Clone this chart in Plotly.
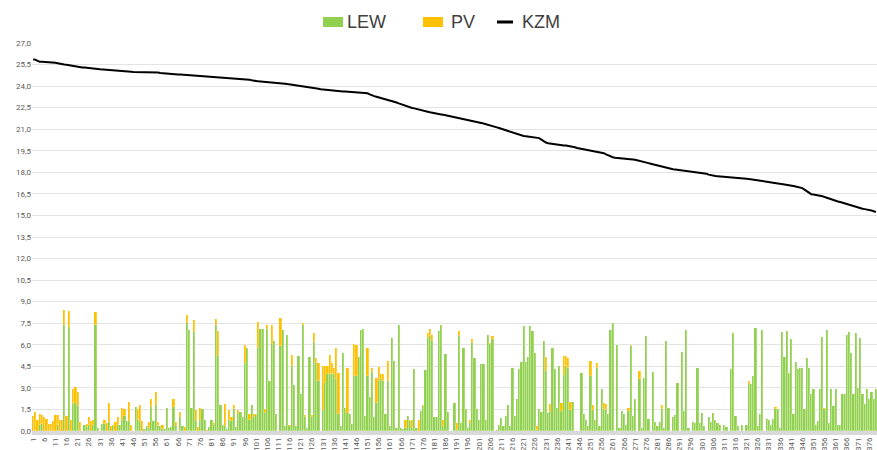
import plotly.graph_objects as go

# ---------------- data ----------------
LEW = [
    0, 0, 0, 0.45, 0.5, 0, 0, 0, 0, 0,
    0, 0.4, 0, 0, 7.4, 0, 7.25, 0, 1.9, 1.95,
    1.75, 0, 0, 0.4, 0.3, 0.4, 0, 0.4, 7.4, 0.2,
    0, 0.5, 0.5, 0, 0.65, 0, 0.35, 0, 0.4, 0.4,
    0.8, 1.05, 0.7, 0.7, 0, 0, 1.65, 0.8, 0.65, 0,
    0.15, 0.35, 0.2, 1.7, 0.7, 1.8, 0.35, 0.35, 0.15, 0.15,
    1.6, 0.2, 0.3, 1.65, 0.35, 0, 0.95, 0.35, 0, 7.5,
    7.05, 1.6, 6.9, 0.7, 0, 0.8, 1.55, 0.75, 0, 0.3,
    0.8, 0.45, 7.4, 5.2, 1.8, 0.4, 0.35, 0.15, 0.8, 0.7,
    1.55, 0.25, 1.15, 1.3, 0.95, 4.75, 5.8, 0.8, 1.8, 0.95,
    1.1, 5.75, 7.1, 7.1, 1.25, 7.1, 3.5, 6.05, 6.25, 1.15,
    0, 5.9, 7.05, 0.35, 6.7, 0.35, 4.5, 3.2, 0.35, 5.25,
    2.6, 7.35, 1.0, 0.2, 5.15, 1.0, 6.2, 4.75, 3.5, 0,
    1.45, 3.35, 4.0, 4.0, 4.0, 4.0, 3.6, 1.2, 0.35, 5.45,
    1.6, 1.25, 1.2, 0.5, 3.85, 3.85, 5.15, 7.0, 7.1, 1.05,
    3.8, 2.4, 4.1, 0.95, 1.95, 3.5, 3.6, 3.5, 1.2, 3.5,
    0.35, 6.45, 4.9, 0.2, 7.35, 0.2, 0.15, 0.2, 1.05, 0.7,
    0.2, 4.3, 0.2, 0, 1.4, 1.75, 4.25, 6.5, 6.6, 6.25,
    1.0, 1.0, 6.95, 7.35, 0.35, 5.35, 1.3, 0, 0, 1.95,
    0.1, 6.6, 0.55, 5.75, 1.5, 0.2, 0.55, 6.15, 5.05, 1.5,
    0.75, 4.65, 4.65, 0.75, 6.65, 6.05, 6.4, 0, 0.05, 0.4,
    0.9, 0.35, 1.05, 1.8, 0.35, 4.4, 1.05, 2.25, 4.3, 4.8,
    7.3, 4.8, 5.15, 7.3, 6.95, 5.45, 0.1, 1.5, 1.35, 6.25,
    4.2, 1.25, 1.3, 5.75, 4.3, 1.6, 4.55, 1.4, 3.9, 4.5,
    4.4, 1.45, 2.05, 0, 0, 0, 4.05, 1.15, 0.75, 0.35,
    3.8, 1.45, 0.75, 4.4, 0.35, 2.95, 1.5, 1.45, 1.15, 7.0,
    7.5, 0, 6.0, 0.2, 1.4, 1.15, 0.45, 1.4, 5.9, 1.05,
    2.2, 0, 3.6, 0.2, 3.7, 6.6, 0.85, 0, 4.1, 0.65,
    0.35, 0.65, 1.55, 0.2, 6.25, 1.6, 0, 0.95, 1.1, 3.35,
    0, 5.5, 1.4, 7.05, 0.2, 0, 0.6, 0.55, 4.35, 0.55,
    1.25, 0.35, 0, 1.0, 0.65, 1.25, 0.8, 0.55, 0.4, 0,
    0.45, 0.3, 0, 4.3, 6.85, 1.05, 0.35, 0, 0.45, 0,
    0.4, 3.25, 3.3, 3.85, 7.15, 0.35, 1.15, 7.05, 0, 0.85,
    0.8, 0.4, 0.85, 1.55, 1.55, 0.2, 6.9, 5.15, 6.95, 4.05,
    6.4, 1.15, 4.8, 4.3, 4.35, 4.4, 1.55, 5.05, 4.4, 2.55,
    2.95, 0.4, 0.7, 2.95, 6.55, 1.55, 7.0, 0.55, 2.95, 1.75,
    2.95, 0.4, 0.4, 2.6, 2.6, 6.65, 6.9, 5.45, 2.6, 6.8,
    3.0, 6.5, 2.6, 1.85, 2.95, 2.2, 2.7, 2.2, 2.9,
]

PV = [
    1.05, 1.3, 0.8, 0.7, 0.6, 0.95, 0.85, 0.5, 0.5, 0.7,
    1.1, 0.7, 0.75, 0.8, 1.0, 1.05, 1.1, 0.75, 1.05, 1.1,
    0.95, 0.6, 0, 0, 0.2, 0.55, 0.7, 0.35, 0.9, 0,
    0, 0, 0.3, 0.55, 1.3, 0.35, 0.1, 0.65, 0.55, 0,
    0.8, 0.5, 0, 1.3, 0.45, 0, 0, 0.75, 1.15, 0.7,
    0, 0, 0.4, 0.5, 0, 0.9, 0.3, 0, 0.25, 0,
    0, 0, 0, 0.6, 0.3, 0, 0.4, 0, 0.3, 0.6,
    0, 0, 0.8, 0.75, 0.25, 0.8, 0, 0, 0.1, 0,
    0, 0.1, 0.4, 1.75, 0, 0, 1.5, 0, 0.65, 0.3,
    0.25, 0, 0.3, 0, 0, 1.25, 0, 0.35, 0, 0.2,
    0.05, 1.85, 0, 0, 0.25, 0.3, 0, 1.35, 0, 0,
    0, 1.95, 0, 0, 0, 0.1, 0.8, 0, 0, 0,
    0, 0.2, 0.1, 0, 0, 0.1, 0.6, 0.3, 1.25, 0,
    3.05, 1.15, 0.55, 1.3, 0.7, 0.35, 2.15, 2.85, 0, 0,
    0, 3.1, 0, 0, 2.2, 2.15, 0, 0, 0, 0,
    1.95, 0, 0.25, 0, 1.75, 0.95, 0.4, 0.45, 0, 1.4,
    0, 0.05, 0, 0, 0, 0, 0, 0.6, 0, 0.1,
    0.6, 0, 0, 0.75, 0, 0.05, 0, 0.35, 0.5, 0.4,
    0, 0, 0, 0, 0.4, 0, 0, 0, 0, 0,
    0.45, 0.35, 0, 0.05, 0, 0, 0.2, 0.25, 0, 0,
    0, 0, 0, 0, 0, 0.1, 0.2, 0, 0, 0,
    0, 0, 0, 0, 0, 0, 0, 0, 0, 0,
    0, 0, 0, 0, 0, 0, 0.25, 0, 0, 0,
    0.95, 0, 0.55, 0, 0, 0, 0, 0.55, 1.35, 0.7,
    0.7, 0.6, 0, 0, 0, 0, 0, 0, 0, 0,
    1.1, 0.35, 0, 0.3, 0, 0, 0.45, 0.45, 0, 0,
    0, 0, 0, 0, 0, 0, 0, 0.2, 0.1, 0,
    0, 0, 0.6, 0, 0, 0, 0, 0, 0, 0,
    0, 0, 0.25, 0, 0, 0, 0, 0, 0, 0,
    0, 0, 0, 0, 0, 0, 0, 0, 0, 0,
    0, 0, 0, 0, 0, 0, 0, 0, 0, 0,
    0, 0, 0, 0, 0, 0, 0, 0, 0, 0,
    0, 0.2, 0, 0, 0, 0, 0, 0, 0, 0,
    0, 0, 0, 0.1, 0, 0, 0, 0, 0, 0,
    0, 0, 0, 0, 0, 0, 0, 0, 0, 0,
    0, 0, 0, 0, 0, 0.05, 0, 0, 0, 0,
    0, 0, 0, 0, 0, 0, 0, 0, 0, 0,
    0, 0, 0, 0, 0, 0, 0, 0, 0,
]

KZM = [
    25.86, 25.84, 25.76, 25.70, 25.70, 25.69, 25.69, 25.68, 25.68, 25.66,
    25.62, 25.59, 25.55, 25.52, 25.50, 25.49, 25.46, 25.43, 25.42, 25.38,
    25.32, 25.31, 25.30, 25.30, 25.29, 25.28, 25.26, 25.24, 25.21, 25.19,
    25.17, 25.16, 25.16, 25.15, 25.14, 25.13, 25.12, 25.10, 25.08, 25.06,
    25.04, 25.03, 25.02, 25.01, 25.00, 24.98, 24.98, 24.97, 24.97, 24.97,
    24.97, 24.96, 24.96, 24.96, 24.96, 24.96, 24.95, 24.92, 24.90, 24.88,
    24.87, 24.86, 24.85, 24.84, 24.82, 24.81, 24.80, 24.79, 24.78, 24.77,
    24.76, 24.74, 24.73, 24.72, 24.71, 24.70, 24.69, 24.68, 24.67, 24.66,
    24.65, 24.64, 24.63, 24.62, 24.61, 24.60, 24.58, 24.57, 24.56, 24.55,
    24.54, 24.53, 24.52, 24.51, 24.50, 24.48, 24.47, 24.45, 24.41, 24.37,
    24.35, 24.33, 24.32, 24.31, 24.30, 24.29, 24.28, 24.27, 24.25, 24.23,
    24.22, 24.21, 24.20, 24.17, 24.14, 24.12, 24.09, 24.06, 24.04, 24.02,
    24.00, 23.98, 23.95, 23.93, 23.90, 23.88, 23.86, 23.83, 23.81, 23.78,
    23.76, 23.75, 23.73, 23.72, 23.70, 23.69, 23.67, 23.66, 23.64, 23.63,
    23.62, 23.61, 23.60, 23.58, 23.57, 23.56, 23.55, 23.54, 23.52, 23.51,
    23.50, 23.42, 23.34, 23.30, 23.26, 23.22, 23.18, 23.14, 23.10, 23.06,
    23.03, 22.98, 22.92, 22.86, 22.80, 22.74, 22.69, 22.64, 22.60, 22.55,
    22.48, 22.45, 22.42, 22.38, 22.34, 22.30, 22.26, 22.22, 22.18, 22.14,
    22.10, 22.08, 22.06, 22.03, 22.00, 21.97, 21.94, 21.91, 21.88, 21.84,
    21.81, 21.78, 21.74, 21.71, 21.67, 21.64, 21.61, 21.58, 21.55, 21.51,
    21.47, 21.44, 21.40, 21.36, 21.33, 21.30, 21.24, 21.18, 21.13, 21.08,
    21.03, 20.98, 20.93, 20.88, 20.83, 20.78, 20.72, 20.66, 20.60, 20.56,
    20.53, 20.51, 20.49, 20.47, 20.45, 20.43, 20.41, 20.38, 20.28, 20.16,
    20.07, 20.03, 20.00, 19.97, 19.94, 19.91, 19.90, 19.89, 19.87, 19.86,
    19.84, 19.82, 19.78, 19.74, 19.70, 19.67, 19.64, 19.60, 19.56, 19.52,
    19.49, 19.47, 19.45, 19.43, 19.41, 19.38, 19.33, 19.25, 19.17, 19.10,
    19.05, 19.02, 19.01, 19.00, 18.99, 18.98, 18.96, 18.94, 18.92, 18.90,
    18.87, 18.84, 18.80, 18.76, 18.72, 18.68, 18.64, 18.60, 18.56, 18.52,
    18.48, 18.43, 18.38, 18.33, 18.28, 18.24, 18.22, 18.21, 18.19, 18.17,
    18.15, 18.13, 18.11, 18.09, 18.07, 18.05, 18.04, 18.03, 18.01, 18.00,
    17.98, 17.95, 17.90, 17.84, 17.79, 17.75, 17.74, 17.73, 17.72, 17.71,
    17.70, 17.69, 17.68, 17.67, 17.66, 17.65, 17.63, 17.61, 17.59, 17.57,
    17.55, 17.53, 17.51, 17.49, 17.47, 17.45, 17.43, 17.41, 17.39, 17.37,
    17.35, 17.32, 17.29, 17.26, 17.23, 17.20, 17.18, 17.17, 17.15, 17.12,
    17.09, 17.05, 17.01, 16.97, 16.94, 16.90, 16.80, 16.68, 16.56, 16.48,
    16.46, 16.44, 16.43, 16.40, 16.34, 16.28, 16.22, 16.16, 16.10, 16.05,
    16.01, 15.97, 15.93, 15.88, 15.84, 15.78, 15.73, 15.67, 15.62, 15.57,
    15.53, 15.50, 15.47, 15.44, 15.42, 15.39, 15.35, 15.29, 15.24,
]

CATEGORIES = list(range(1, len(KZM) + 1))
TICK_VALUES = CATEGORIES[::5]
TICK_LABELS = [str(c) for c in TICK_VALUES]
Y_TICKS = [i * 1.5 for i in range(19)]
SERIES_NAMES = ["LEW", "PV", "KZM"]

GREEN = "#92D050"
ORANGE = "#FFC000"
BLACK = "#000000"

# plot-area geometry in pixels
W, H = 877, 450
ML, MR, MT, MB = 32, 0, 43, 19
PW, PH = W - ML - MR, H - MT - MB


def px_x(p):
    return (p - ML) / PW


def px_y(p):
    return (H - MB - p) / PH


fig = go.Figure()
fig.add_trace(go.Bar(
    x=CATEGORIES, y=LEW, name=SERIES_NAMES[0],
    marker=dict(color=GREEN, line=dict(color="rgba(255,255,255,0.55)", width=0.4)),
))
fig.add_trace(go.Bar(
    x=CATEGORIES, y=PV, name=SERIES_NAMES[1],
    marker=dict(color=ORANGE, line=dict(color="rgba(255,255,255,0.55)", width=0.4)),
))
fig.add_trace(go.Scatter(
    x=CATEGORIES, y=KZM, name=SERIES_NAMES[2], mode="lines",
    line=dict(color=BLACK, width=2),
))

# legend drawn as swatches + text (matches the wide Excel-style swatches)
shapes = [
    dict(type="rect", xref="paper", yref="paper",
         x0=px_x(323), x1=px_x(343), y0=px_y(27), y1=px_y(17),
         fillcolor=GREEN, line=dict(width=0)),
    dict(type="rect", xref="paper", yref="paper",
         x0=px_x(423), x1=px_x(443), y0=px_y(27), y1=px_y(17),
         fillcolor=ORANGE, line=dict(width=0)),
    dict(type="line", xref="paper", yref="paper",
         x0=px_x(497), x1=px_x(513), y0=px_y(22), y1=px_y(22),
         line=dict(color=BLACK, width=3)),
    # grey base band under the bars
    dict(type="rect", xref="paper", yref="paper",
         x0=0, x1=1, y0=px_y(435), y1=px_y(431),
         fillcolor="#D9D9D9", line=dict(width=0), layer="above"),
]
legend_font = dict(family="Liberation Sans, Arial, sans-serif", size=18, color="#404040")
annotations = [
    dict(text=SERIES_NAMES[0], x=px_x(345), y=px_y(22), xref="paper", yref="paper",
         xanchor="left", yanchor="middle", showarrow=False, font=legend_font),
    dict(text=SERIES_NAMES[1], x=px_x(449), y=px_y(22), xref="paper", yref="paper",
         xanchor="left", yanchor="middle", showarrow=False, font=legend_font),
    dict(text=SERIES_NAMES[2], x=px_x(520), y=px_y(22), xref="paper", yref="paper",
         xanchor="left", yanchor="middle", showarrow=False, font=legend_font),
]

fig.update_layout(
    width=W, height=H,
    template="none",
    paper_bgcolor="white", plot_bgcolor="white",
    separators=",.",
    barmode="stack", bargap=0,
    margin=dict(l=ML, r=MR, t=MT, b=MB, autoexpand=False),
    font=dict(family="Roboto, Liberation Sans, sans-serif", color="#595959", size=9),
    showlegend=False,
    shapes=shapes,
    annotations=annotations,
    xaxis=dict(
        range=[0.5, len(KZM) + 0.5],
        tickmode="array", tickvals=TICK_VALUES, ticktext=TICK_LABELS,
        tickangle=-90, tickfont=dict(size=8, color="#595959"),
        showgrid=False, zeroline=False, showline=False,
        ticks="", automargin=False, ticklabelstandoff=4,
    ),
    yaxis=dict(
        range=[0, 27], tickmode="array", tickvals=Y_TICKS,
        tickformat=".1f", tickfont=dict(size=8, color="#595959"),
        showgrid=True, gridcolor="#E3E3E3", gridwidth=1,
        zeroline=False, showline=False, ticks="", automargin=False,
    ),
)

fig.write_html(
    "out.html",
    config={"displayModeBar": False},
    post_script="document.body.style.margin='0px';",
)
